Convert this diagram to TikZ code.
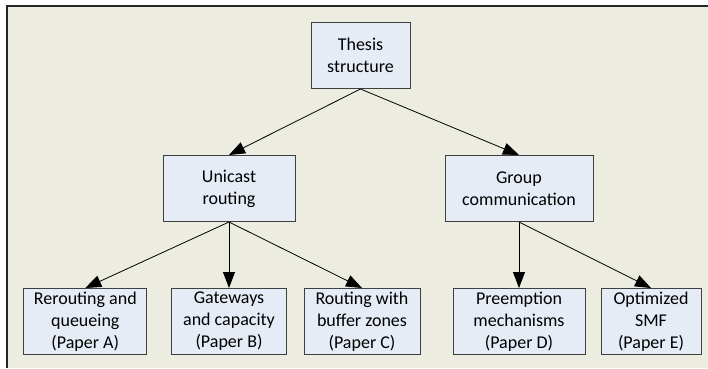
\documentclass[tikz,border=0pt]{standalone}
\usepackage{fontspec}
\setmainfont{Carlito}
\usepackage{xcolor}
\usetikzlibrary{arrows.meta, positioning}
\definecolor{bgkhaki}{HTML}{ECECE0}
\definecolor{boxblue}{HTML}{E6ECF6}
\definecolor{boxline}{HTML}{404040}

\begin{document}
\begin{tikzpicture}[x=1pt, y=-1pt, line width=0.8pt,
  box/.style={draw=boxline, fill=boxblue, rectangle, align=center, inner sep=0pt,
    minimum height=66pt, line width=1pt, font=\fontsize{18}{22}\selectfont},
  >={Triangle[length=16pt, width=12pt]}]
  \useasboundingbox (0,0) rectangle (708,368);
  % background
  \fill[bgkhaki] (7,6) rectangle (708,368);
  \draw[line width=2pt, black!85] (7,368) -- (7,6) -- (708,6);

  \node[box, minimum width=99pt] (a) at (360.5,55.5) {Thesis\\structure};
  \node[box, minimum width=132pt, below=66pt of a, xshift=-131.5pt] (b) {Unicast\\routing};
  \node[box, minimum width=148pt, below=66pt of a, xshift=158.5pt] (g) {Group\\communication};

  \node[box, minimum width=123pt, below=66pt of b, xshift=-143.7pt] (c) {Rerouting and\\queueing\\(Paper A)};
  \node[box, minimum width=115pt, below=66pt of b] (d) {Gateways\\and capacity\\(Paper B)};
  \node[box, minimum width=116pt, below=66pt of b, xshift=133pt] (e) {Routing with\\buffer zones\\(Paper C)};

  \node[box, minimum width=132pt, below=66pt of g] (h) {Preemption\\mechanisms\\(Paper D)};
  \node[box, minimum width=100pt, below=66pt of g, xshift=132pt] (i) {Optimized\\SMF\\(Paper E)};

  \draw[->] (a.south) -- (b.north);
  \draw[->] (a.south) -- (g.north);

  \draw[->] (b.south) -- (c.north);
  \draw[->] (b.south) -- (d.north);
  \draw[->] (b.south) -- (e.north);

  \draw[->] (g.south) -- (h.north);
  \draw[->] (g.south) -- (i.north);

\end{tikzpicture}
\end{document}
